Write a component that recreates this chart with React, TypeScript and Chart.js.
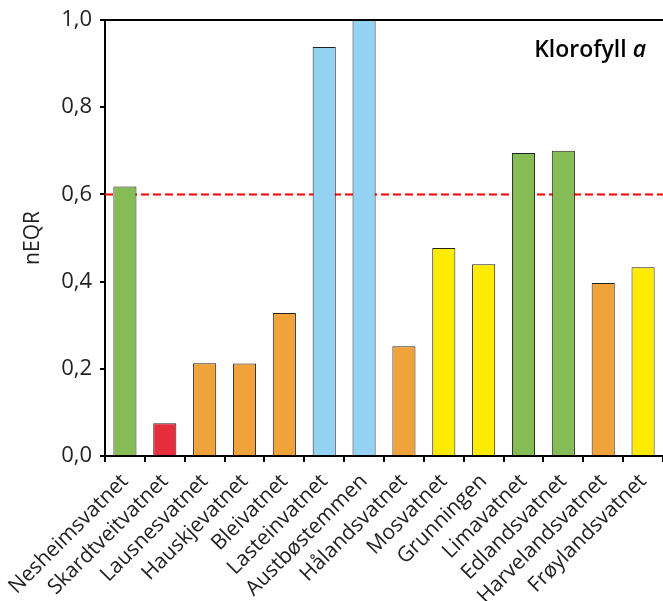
import React, { useEffect, useRef } from "react";
import { Chart, registerables } from "chart.js";

Chart.register(...registerables);

const lakes = [
  "Nesheimsvatnet",
  "Skardtveitvatnet",
  "Lausnesvatnet",
  "Hauskjevatnet",
  "Bleivatnet",
  "Lasteinvatnet",
  "Austbøstemmen",
  "Hålandsvatnet",
  "Mosvatnet",
  "Grunningen",
  "Limavatnet",
  "Edlandsvatnet",
  "Harvelandsvatnet",
  "Frøylandsvatnet",
];

const neqr = [0.618, 0.075, 0.213, 0.212, 0.328, 0.938, 1.0, 0.252, 0.477, 0.44, 0.695, 0.7, 0.397, 0.433];

// Status class per lake
const status = [
  "god",
  "sværtDårlig",
  "dårlig",
  "dårlig",
  "dårlig",
  "sværtGod",
  "sværtGod",
  "dårlig",
  "moderat",
  "moderat",
  "god",
  "god",
  "dårlig",
  "moderat",
];

const yTicks = [0, 0.2, 0.4, 0.6, 0.8, 1.0];
const boundary = 0.6;
const titleMain = "Klorofyll ";
const titleItalic = "a";

const statusColors: Record<string, string> = {
  sværtGod: "#93D2F2",
  god: "#86BC56",
  moderat: "#FFEB00",
  dårlig: "#F0A33A",
  sværtDårlig: "#E52D3B",
};

const FONT = "'Open Sans', sans-serif";

const overlayPlugin = {
  id: "overlay",
  beforeDatasetsDraw(chart: any) {
    const { ctx, chartArea, scales } = chart;
    const y = scales.y.getPixelForValue(boundary);
    ctx.save();
    ctx.strokeStyle = "#FF0000";
    ctx.lineWidth = 2;
    ctx.setLineDash([8, 4]);
    ctx.beginPath();
    ctx.moveTo(chartArea.left, y);
    ctx.lineTo(chartArea.right, y);
    ctx.stroke();
    ctx.restore();
  },
  afterDraw(chart: any) {
    const { ctx, chartArea } = chart;
    ctx.save();
    ctx.strokeStyle = "#000";
    ctx.lineWidth = 2;
    ctx.beginPath();
    ctx.moveTo(chartArea.left - 1, chartArea.top);
    ctx.lineTo(chartArea.right, chartArea.top);
    ctx.stroke();

    ctx.fillStyle = "#000";
    ctx.textBaseline = "alphabetic";
    ctx.textAlign = "left";
    const mainFont = `600 23px ${FONT}`;
    const italFont = `italic 600 23px ${FONT}`;
    ctx.font = italFont;
    const wI = ctx.measureText(titleItalic).width;
    ctx.font = mainFont;
    const wM = ctx.measureText(titleMain).width;
    const right = 646;
    const base = 57;
    const x0 = right - wI - wM;
    ctx.fillText(titleMain, x0, base);
    ctx.font = italFont;
    ctx.fillText(titleItalic, x0 + wM, base);
    ctx.restore();
  },
};

export default function App() {
  const ref = useRef<HTMLCanvasElement>(null);

  useEffect(() => {
    if (!ref.current) return;
    const chart = new Chart(ref.current, {
      type: "bar",
      data: {
        labels: lakes,
        datasets: [
          {
            data: neqr,
            backgroundColor: status.map((s) => statusColors[s]),
            borderColor: "#222222",
            borderWidth: 1,
            barPercentage: 0.58,
            categoryPercentage: 1,
          },
        ],
      },
      options: {
        responsive: false,
        animation: false,
        layout: { padding: { top: 20, right: 0, left: 0, bottom: 0 } },
        plugins: {
          legend: { display: false },
          tooltip: { enabled: false },
        },
        scales: {
          x: {
            grid: {
              display: true,
              offset: true,
              drawOnChartArea: false,
              drawTicks: true,
              tickLength: 6,
              color: "#000",
              lineWidth: 2,
            },
            border: { display: true, color: "#000", width: 2 },
            ticks: {
              color: "#222",
              font: { family: FONT, size: 21 },
              maxRotation: 45,
              minRotation: 45,
              autoSkip: false,
              padding: 7,
            },
            afterFit(scale: any) {
              scale.height = 145;
              scale.paddingLeft = 0;
              scale.paddingRight = 0;
            },
          },
          y: {
            min: 0,
            max: 1,
            afterBuildTicks(scale: any) {
              scale.ticks = yTicks.map((v) => ({ value: v }));
            },
            grid: {
              display: true,
              drawOnChartArea: false,
              drawTicks: true,
              tickLength: 5,
              color: "#000",
              lineWidth: 2,
            },
            border: { display: true, color: "#000", width: 2 },
            ticks: {
              color: "#222",
              font: { family: FONT, size: 22 },
              padding: 8,
              callback: (v: any) => Number(v).toFixed(1).replace(".", ","),
            },
            title: {
              display: true,
              text: "nEQR",
              color: "#222",
              font: { family: FONT, size: 21 },
              padding: { top: 20, bottom: 0 },
            },
            afterFit(scale: any) {
              scale.width = 105;
              scale.paddingTop = 0;
              scale.paddingBottom = 0;
            },
          },
        },
      },
      plugins: [overlayPlugin],
    });
    return () => chart.destroy();
  }, []);

  return (
    <div style={{ position: "fixed", left: 0, top: 0, width: 663, height: 601, background: "#fff" }}>
      <canvas ref={ref} width={663} height={601} style={{ width: 663, height: 601, display: "block" }} />
    </div>
  );
}
